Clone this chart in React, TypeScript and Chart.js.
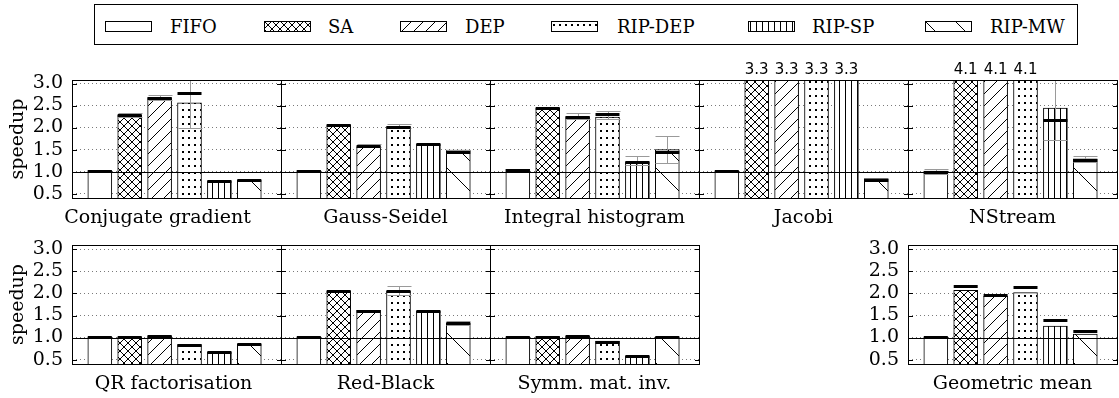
import React, { useEffect, useRef } from "react";
import { Chart, registerables } from "chart.js";
Chart.register(...registerables);

const SERIF = "'DejaVu Serif', serif";
const SANS = "'DejaVu Sans', sans-serif";

// ---------- data ----------
const seriesNames = ["FIFO", "SA", "DEP", "RIP-DEP", "RIP-SP", "RIP-MW"];
const barIndex = [0, 1, 2, 3, 4, 5];
const yTickValues = [0.5, 1.0, 1.5, 2.0, 2.5, 3.0];
const yTickLabels = ["0.5", "1.0", "1.5", "2.0", "2.5", "3.0"];
const axisLabel = "speedup";
const benchmarks = [
  "Conjugate gradient",
  "Gauss-Seidel",
  "Integral histogram",
  "Jacobi",
  "NStream",
  "QR factorisation",
  "Red-Black",
  "Symm. mat. inv.",
  "Geometric mean",
];

const cgSpeedup = [1.02, 2.28, 2.68, 2.56, 0.79, 0.8];
const cgMark = [1.02, 2.28, 2.68, 2.78, 0.79, 0.8];
const cgErrLow = [null, 2.25, 2.63, 1.99, null, null];
const cgErrHigh = [null, 2.34, 2.75, 3.5, null, null];

const gsSpeedup = [1.02, 2.06, 1.57, 2.02, 1.62, 1.49];
const gsMark = [1.02, 2.06, 1.57, 2.02, 1.62, 1.44];
const gsErrLow = [null, null, 1.55, 1.98, null, 1.42];
const gsErrHigh = [null, null, 1.62, 2.08, null, 1.5];

const ihSpeedup = [1.05, 2.44, 2.25, 2.24, 1.22, 1.5];
const ihMark = [1.04, 2.44, 2.25, 2.31, 1.21, 1.44];
const ihErrLow = [null, null, 2.2, 2.2, 1.15, 1.2];
const ihErrHigh = [null, null, 2.32, 2.38, 1.35, 1.81];

const jacobiSpeedup = [1.01, 3.3, 3.3, 3.3, 3.3, 0.84];
const jacobiMark = [1.01, 3.3, 3.3, 3.3, 3.3, 0.82];
const jacobiErrLow = [null, null, null, null, null, null];
const jacobiErrHigh = [null, null, null, null, null, null];

const nstreamSpeedup = [1.01, 4.1, 4.1, 4.1, 2.44, 1.29];
const nstreamMark = [0.99, 4.1, 4.1, 4.1, 2.17, 1.27];
const nstreamErrLow = [0.95, null, null, null, 1.71, 1.22];
const nstreamErrHigh = [1.07, null, null, null, 3.5, 1.36];

const qrSpeedup = [1.01, 1.01, 1.04, 0.84, 0.67, 0.85];
const qrMark = [1.01, 1.01, 1.04, 0.84, 0.67, 0.85];
const qrErrLow = [null, null, null, null, null, null];
const qrErrHigh = [null, null, null, null, null, null];

const rbSpeedup = [1.01, 2.05, 1.62, 2.05, 1.6, 1.32];
const rbMark = [1.01, 2.05, 1.61, 2.05, 1.6, 1.32];
const rbErrLow = [null, null, null, 1.96, null, 1.28];
const rbErrHigh = [null, null, null, 2.17, null, 1.37];

const symmSpeedup = [1.01, 1.02, 1.03, 0.92, 0.58, 1.01];
const symmMark = [1.01, 1.02, 1.03, 0.9, 0.58, 1.01];
const symmErrLow = [null, null, null, null, null, null];
const symmErrHigh = [null, null, null, null, null, null];

const geoSpeedup = [1.01, 2.07, 1.94, 2.02, 1.26, 1.08];
const geoMark = [1.01, 2.17, 1.96, 2.15, 1.39, 1.15];
const geoErrLow = [null, null, null, null, null, null];
const geoErrHigh = [null, null, null, null, null, null];

// ---------- layout ----------
const COL_LEFT = [72, 281, 490, 699, 908];
const PANEL_W = 209;
const ROW_TOP = [80, 245];
const ROW_BOTTOM = [198, 364];
const ROW_YMAX = [3.08, 3.1];
const Y_MIN = 0.4;
const X_MIN = -0.93;
const X_MAX = 6.06;
const AXIS_W = 72;
const PAD_TOP = 30;
const PAD_RIGHT = 3;
const X_H = 31;
const TITLE_DY = 19.6;
const FONT_SIZE = 19;

type Panel = {
  name: string;
  row: number;
  col: number;
  titleShift: number;
  values: number[];
  marks: number[];
  lo: (number | null)[];
  hi: (number | null)[];
};

const panels: Panel[] = [
  { name: benchmarks[0], row: 0, col: 0, titleShift: -19, values: cgSpeedup, marks: cgMark, lo: cgErrLow, hi: cgErrHigh },
  { name: benchmarks[1], row: 0, col: 1, titleShift: 0, values: gsSpeedup, marks: gsMark, lo: gsErrLow, hi: gsErrHigh },
  { name: benchmarks[2], row: 0, col: 2, titleShift: 0, values: ihSpeedup, marks: ihMark, lo: ihErrLow, hi: ihErrHigh },
  { name: benchmarks[3], row: 0, col: 3, titleShift: 0, values: jacobiSpeedup, marks: jacobiMark, lo: jacobiErrLow, hi: jacobiErrHigh },
  { name: benchmarks[4], row: 0, col: 4, titleShift: 0, values: nstreamSpeedup, marks: nstreamMark, lo: nstreamErrLow, hi: nstreamErrHigh },
  { name: benchmarks[5], row: 1, col: 0, titleShift: -3, values: qrSpeedup, marks: qrMark, lo: qrErrLow, hi: qrErrHigh },
  { name: benchmarks[6], row: 1, col: 1, titleShift: 0, values: rbSpeedup, marks: rbMark, lo: rbErrLow, hi: rbErrHigh },
  { name: benchmarks[7], row: 1, col: 2, titleShift: 0, values: symmSpeedup, marks: symmMark, lo: symmErrLow, hi: symmErrHigh },
  { name: benchmarks[8], row: 1, col: 4, titleShift: 0, values: geoSpeedup, marks: geoMark, lo: geoErrLow, hi: geoErrHigh },
];

const LEGEND_SWATCH_X = [105, 264, 400, 551, 748, 925];
const LEGEND_TEXT_X = [170, 328, 465, 617, 812, 990];

// ---------- patterns ----------
function makePattern(kind: string): CanvasPattern | string {
  if (kind === "FIFO") return "#ffffff";
  const c = document.createElement("canvas");
  let w = 8;
  let h = 8;
  if (kind === "DEP") { w = 12; h = 12; }
  if (kind === "RIP-DEP") { w = 6; h = 7; }
  if (kind === "RIP-SP") { w = 6; h = 4; }
  if (kind === "RIP-MW") { w = 30; h = 30; }
  c.width = w;
  c.height = h;
  const g = c.getContext("2d")!;
  g.fillStyle = "#ffffff";
  g.fillRect(0, 0, w, h);
  g.strokeStyle = "#000000";
  g.fillStyle = "#000000";
  g.lineWidth = 1;
  const slash = () => {
    for (const k of [-1, 0, 1]) {
      g.beginPath();
      g.moveTo(k * w, h);
      g.lineTo(k * w + w, 0);
      g.stroke();
    }
  };
  const back = () => {
    for (const k of [-1, 0, 1]) {
      g.beginPath();
      g.moveTo(k * w, 0);
      g.lineTo(k * w + w, h);
      g.stroke();
    }
  };
  if (kind === "SA") { slash(); back(); }
  if (kind === "DEP") slash();
  if (kind === "RIP-MW") back();
  if (kind === "RIP-DEP") g.fillRect(2, 3, 2, 2);
  if (kind === "RIP-SP") g.fillRect(2, 0, 1, h);
  return g.createPattern(c, "repeat")!;
}

function makeDecoPlugin(p: Panel) {
  return {
    id: "panelDeco",
    afterDatasetsDraw(chart: any) {
      const { ctx, chartArea: a, scales } = chart;
      const x = scales.x;
      const y = scales.y;
      const L = Math.round(a.left);
      const R = Math.round(a.right);
      const T = Math.round(a.top);
      const B = Math.round(a.bottom);
      const half = 12;
      ctx.save();
      ctx.beginPath();
      ctx.rect(L, T, R - L + 1, B - T + 1);
      ctx.clip();
      // error bars
      ctx.strokeStyle = "#9a9a9a";
      ctx.lineWidth = 1;
      barIndex.forEach((i) => {
        const lo = p.lo[i];
        const hi = p.hi[i];
        if (lo == null || hi == null) return;
        const cx = Math.round(x.getPixelForValue(i)) + 0.5;
        const yl = Math.round(y.getPixelForValue(lo)) + 0.5;
        const yh = Math.round(y.getPixelForValue(hi)) + 0.5;
        ctx.beginPath();
        ctx.moveTo(cx, yl);
        ctx.lineTo(cx, yh);
        ctx.moveTo(cx - half, yl);
        ctx.lineTo(cx + half, yl);
        ctx.moveTo(cx - half, yh);
        ctx.lineTo(cx + half, yh);
        ctx.stroke();
      });
      // thick marks
      ctx.strokeStyle = "#000000";
      ctx.lineWidth = 3;
      barIndex.forEach((i) => {
        const m = p.marks[i];
        const cx = x.getPixelForValue(i);
        const ym = Math.round(y.getPixelForValue(m)) + 0.5;
        ctx.beginPath();
        ctx.moveTo(cx - half, ym);
        ctx.lineTo(cx + half, ym);
        ctx.stroke();
      });
      // baseline at 1.0
      ctx.lineWidth = 1;
      const y1 = Math.round(y.getPixelForValue(1.0)) + 0.5;
      ctx.beginPath();
      ctx.moveTo(L, y1);
      ctx.lineTo(R, y1);
      ctx.stroke();
      ctx.restore();

      ctx.save();
      ctx.strokeStyle = "#000000";
      ctx.lineWidth = 1;
      // inward ticks on both sides
      yTickValues.forEach((v) => {
        const ty = Math.round(y.getPixelForValue(v)) + 0.5;
        ctx.beginPath();
        ctx.moveTo(L, ty);
        ctx.lineTo(L + 5, ty);
        ctx.moveTo(R - 4, ty);
        ctx.lineTo(R + 1, ty);
        ctx.stroke();
      });
      // frame
      ctx.strokeRect(L + 0.5, T + 0.5, R - L, B - T);
      // labels for bars beyond the range
      ctx.fillStyle = "#000000";
      ctx.font = `15px ${SANS}`;
      ctx.textAlign = "center";
      ctx.textBaseline = "alphabetic";
      barIndex.forEach((i) => {
        const v = p.values[i];
        if (v > y.max) {
          ctx.fillText(v.toFixed(1), x.getPixelForValue(i), T - 6);
        }
      });
      // category title
      ctx.font = `${FONT_SIZE}px ${SERIF}`;
      ctx.textBaseline = "middle";
      ctx.fillText(p.name, (L + R) / 2 + p.titleShift, B + TITLE_DY);
      ctx.restore();
    },
  };
}

function makeConfig(p: Panel, patterns: (CanvasPattern | string)[]): any {
  const showTicks = p.col === 0 || p.name === benchmarks[8];
  const showTitle = p.col === 0;
  return {
    type: "bar",
    data: {
      datasets: [
        {
          label: p.name,
          data: barIndex.map((i) => ({ x: i, y: p.values[i] })),
          backgroundColor: patterns,
          borderColor: "#000000",
          borderWidth: 1,
          barThickness: 24,
          borderSkipped: "bottom",
        },
      ],
    },
    options: {
      responsive: false,
      animation: false,
      devicePixelRatio: 1,
      layout: { padding: { top: PAD_TOP, right: PAD_RIGHT, left: 0, bottom: 0 } },
      plugins: { legend: { display: false }, tooltip: { enabled: false } },
      scales: {
        x: {
          type: "linear",
          min: X_MIN,
          max: X_MAX,
          offset: false,
          grid: { display: false, offset: false },
          border: { display: false },
          ticks: { display: false },
          title: { display: false },
          afterFit: (axis: any) => {
            axis.height = X_H;
          },
        },
        y: {
          type: "linear",
          min: Y_MIN,
          max: ROW_YMAX[p.row],
          grid: { color: "#7a7a7a", lineWidth: 1, drawTicks: false },
          border: { display: false, dash: [1, 3] },
          ticks: {
            display: showTicks,
            autoSkip: false,
            color: "#000000",
            font: { family: SERIF, size: FONT_SIZE },
            padding: 9,
            callback: (v: number) => {
              const k = yTickValues.indexOf(Number(v));
              return k >= 0 ? yTickLabels[k] : "";
            },
          },
          title: {
            display: showTitle,
            text: axisLabel,
            color: "#000000",
            font: { family: SERIF, size: FONT_SIZE },
            padding: { top: 7, bottom: 0 },
          },
          afterBuildTicks: (axis: any) => {
            axis.ticks = yTickValues.map((v) => ({ value: v }));
          },
          afterFit: (axis: any) => {
            axis.width = AXIS_W;
          },
        },
      },
    },
    plugins: [makeDecoPlugin(p)],
  };
}

export default function App() {
  const canvasRefs = useRef<(HTMLCanvasElement | null)[]>([]);
  const swatchRefs = useRef<(HTMLCanvasElement | null)[]>([]);

  useEffect(() => {
    const patterns = seriesNames.map(makePattern);
    const charts: Chart[] = [];
    panels.forEach((p, i) => {
      const cv = canvasRefs.current[i];
      if (!cv) return;
      charts.push(new Chart(cv, makeConfig(p, patterns)));
    });
    seriesNames.forEach((s, i) => {
      const cv = swatchRefs.current[i];
      if (!cv) return;
      const g = cv.getContext("2d")!;
      g.clearRect(0, 0, cv.width, cv.height);
      g.fillStyle = patterns[i] as any;
      g.fillRect(0, 0, cv.width, cv.height);
      g.strokeStyle = "#000000";
      g.lineWidth = 1;
      g.strokeRect(0.5, 0.5, cv.width - 1, cv.height - 1);
    });
    return () => charts.forEach((c) => c.destroy());
  }, []);

  return (
    <div
      style={{
        position: "fixed",
        left: 0,
        top: 0,
        width: 1119,
        height: 398,
        background: "#ffffff",
        overflow: "hidden",
      }}
    >
      <div
        style={{
          position: "absolute",
          left: 94,
          top: 4,
          width: 982,
          height: 39,
          border: "1px solid #000",
        }}
      />
      {seriesNames.map((s, i) => (
        <React.Fragment key={s}>
          <canvas
            ref={(el) => {
              swatchRefs.current[i] = el;
            }}
            width={47}
            height={11}
            style={{ position: "absolute", left: LEGEND_SWATCH_X[i], top: 21, width: 47, height: 11 }}
          />
          <span
            style={{
              position: "absolute",
              left: LEGEND_TEXT_X[i],
              top: 18,
              fontFamily: SERIF,
              fontSize: 18,
              lineHeight: "18px",
              color: "#000",
              whiteSpace: "nowrap",
            }}
          >
            {s}
          </span>
        </React.Fragment>
      ))}
      {panels.map((p, i) => {
        const w = AXIS_W + PANEL_W + PAD_RIGHT;
        const h = PAD_TOP + (ROW_BOTTOM[p.row] - ROW_TOP[p.row]) + X_H;
        return (
          <canvas
            key={p.name}
            ref={(el) => {
              canvasRefs.current[i] = el;
            }}
            width={w}
            height={h}
            style={{
              position: "absolute",
              left: COL_LEFT[p.col] - AXIS_W,
              top: ROW_TOP[p.row] - PAD_TOP,
              width: w,
              height: h,
            }}
          />
        );
      })}
    </div>
  );
}
